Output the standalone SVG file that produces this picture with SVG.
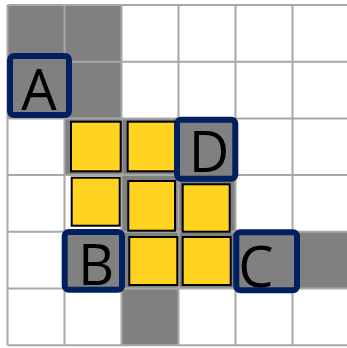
<svg xmlns="http://www.w3.org/2000/svg" width="347" height="348" viewBox="0 0 347 348">
<style>
.cell{fill:#808080}
.grid{stroke:#a8a8a8;stroke-width:2;fill:none}
.y{fill:#ffd320;stroke:#000;stroke-width:2}
.box{fill:#808080;stroke:#002060;stroke-width:6}
.lbl{font-family:"Open Sans","Noto Sans",sans-serif;font-size:56px;fill:#000;text-anchor:middle}
</style>
<rect x="0" y="0" width="347" height="348" fill="#fff"/>
<g id="gray-cells">
<rect class="cell" x="7.5" y="5" width="114" height="113.4"/>
<rect class="cell" x="64.5" y="118.4" width="57" height="56.7"/>
<rect class="cell" x="121.5" y="118.4" width="114" height="113.4"/>
<rect class="cell" x="64.5" y="231.8" width="283" height="56.7"/>
<rect class="cell" x="121.5" y="288.5" width="57" height="56.7"/>
</g>
<g id="grid" class="grid">
<path d="M7.5 5V345.2M64.5 5V345.2M121.5 5V345.2M178.5 5V345.2M235.5 5V345.2M292.5 5V345.2"/>
<path d="M7.5 5H347M7.5 61.7H347M7.5 118.4H347M7.5 175.1H347M7.5 231.8H347M7.5 288.5H347M7.5 345.2H347"/>
</g>
<g id="yellow">
<rect class="y" x="71" y="121.7" width="49.7" height="49.6"/>
<rect class="y" x="127.7" y="121.7" width="47.3" height="49.6"/>
<rect class="y" x="71.7" y="177.7" width="48" height="48"/>
<rect class="y" x="128.3" y="181" width="46.7" height="49.7"/>
<rect class="y" x="182.7" y="184.3" width="47" height="47.4"/>
<rect class="y" x="129.3" y="237" width="48" height="48"/>
<rect class="y" x="182.7" y="237" width="48" height="48"/>
</g>
<g id="A">
<rect class="box" x="10" y="56" width="59" height="59" rx="4"/>
<text class="lbl" x="39" y="110">A</text>
</g>
<g id="B">
<rect class="box" x="64.7" y="232" width="57.3" height="57.7" rx="4"/>
<text class="lbl" x="96" y="285">B</text>
</g>
<g id="C">
<rect class="box" x="236.3" y="232.3" width="60.7" height="58" rx="4"/>
<text class="lbl" x="256" y="286.5">C</text>
</g>
<g id="D">
<rect class="box" x="177" y="119.7" width="58.3" height="59" rx="4"/>
<text class="lbl" x="209" y="171.5">D</text>
</g>
</svg>
